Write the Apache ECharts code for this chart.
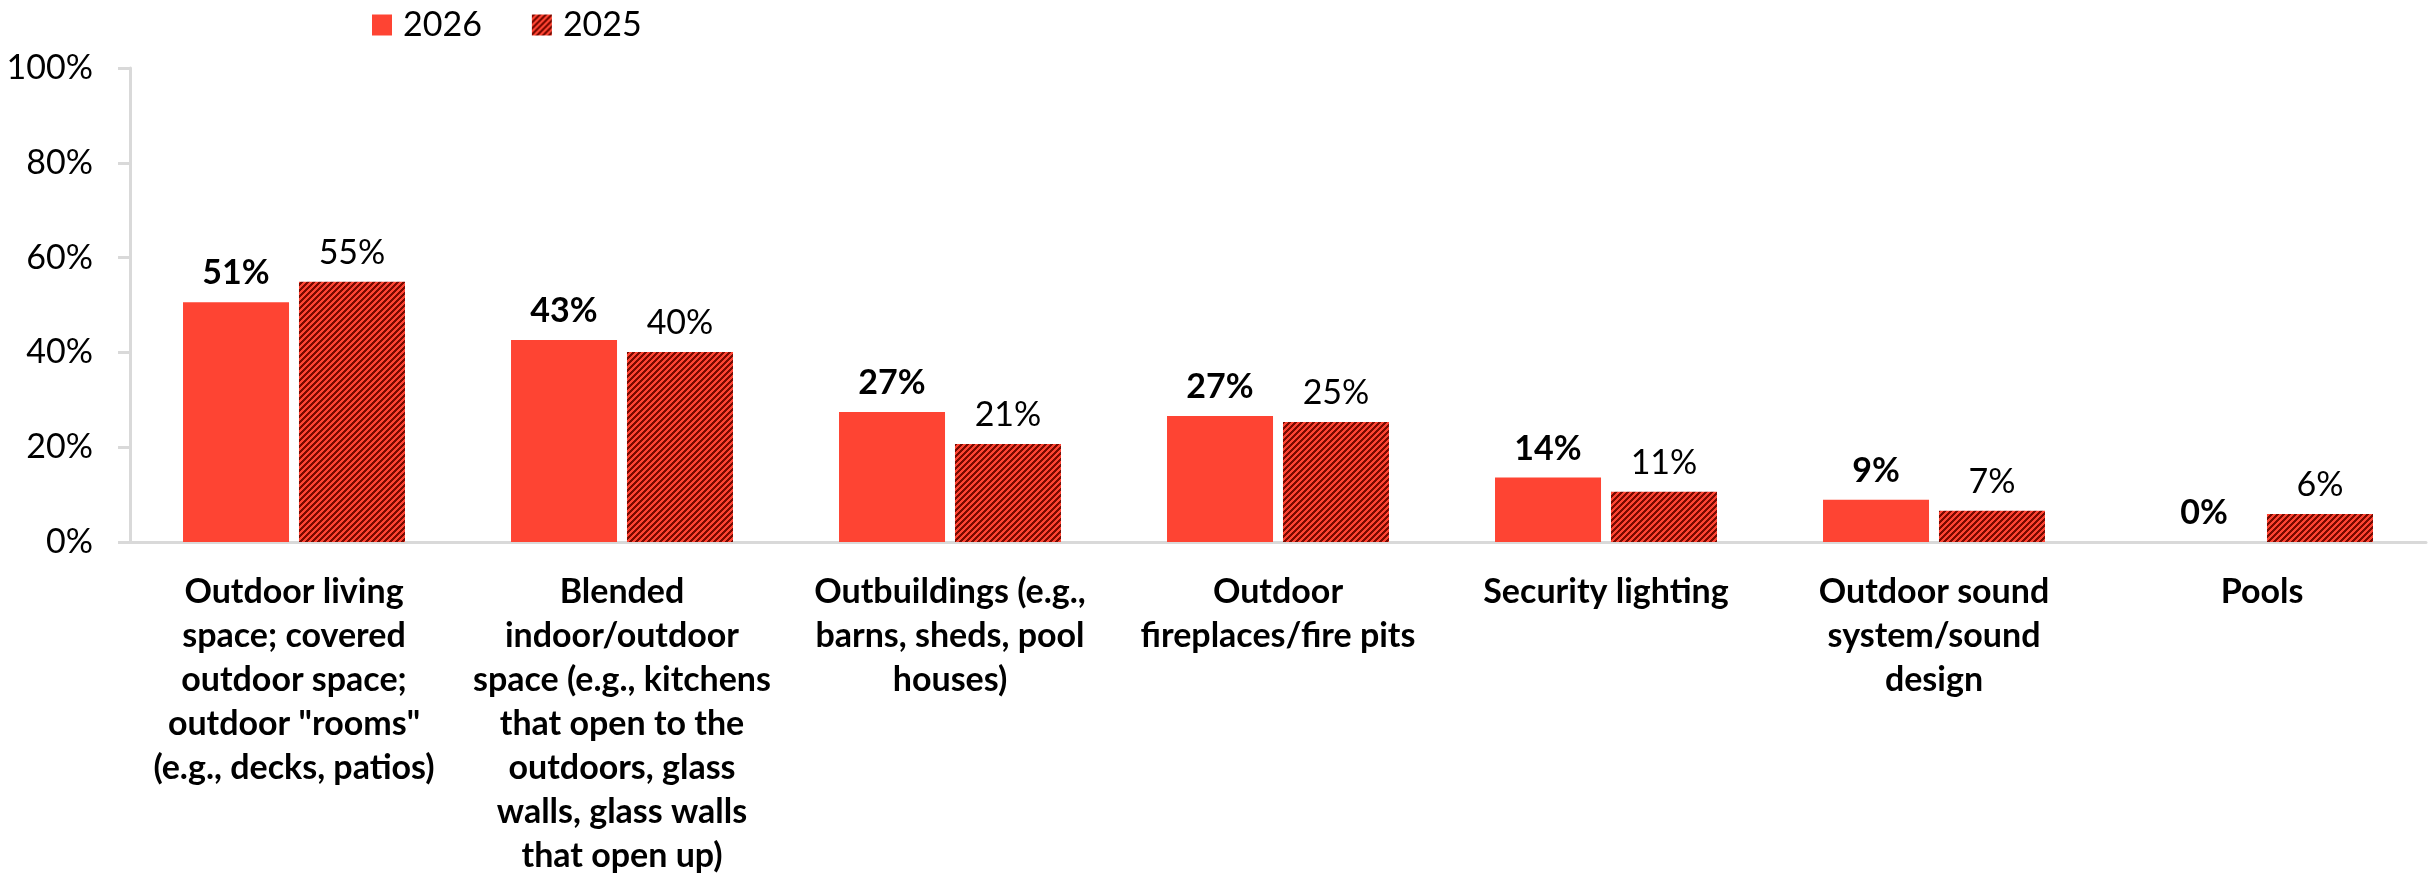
<!DOCTYPE html>
<html>
<head>
<meta charset="utf-8">
<script src="https://cdn.jsdelivr.net/npm/echarts@6/dist/echarts.min.js"></script>
<style>
html,body{margin:0;padding:0;background:#fff;}
#chart{width:2430px;height:885px;}
</style>
</head>
<body>
<div id="chart"></div>
<script>
const categories = [
  'Outdoor living\nspace; covered\noutdoor space;\noutdoor "rooms"\n(e.g., decks, patios)',
  'Blended\nindoor/outdoor\nspace (e.g., kitchens\nthat open to the\noutdoors, glass\nwalls, glass walls\nthat open up)',
  'Outbuildings (e.g.,\nbarns, sheds, pool\nhouses)',
  'Outdoor\nfireplaces/fire pits',
  'Security lighting',
  'Outdoor sound\nsystem/sound\ndesign',
  'Pools'
];
const values2026 = [50.6, 42.6, 27.4, 26.6, 13.6, 8.9, 0];
const values2025 = [54.9, 40.1, 20.7, 25.3, 10.6, 6.6, 5.9];
const yTicks = [0, 20, 40, 60, 80, 100];

const RED = '#FE4433';

function makePattern() {
  const size = 6;
  const c = document.createElement('canvas');
  c.width = size; c.height = size;
  const ctx = c.getContext('2d');
  const img = ctx.createImageData(size, size);
  const r1 = [0xFE, 0x44, 0x33], r2 = [0x7A, 0x0A, 0x00];
  for (let y = 0; y < size; y++) {
    for (let x = 0; x < size; x++) {
      const col = ((x + y) % size) < 3 ? r2 : r1;
      const i = (y * size + x) * 4;
      img.data[i] = col[0]; img.data[i+1] = col[1]; img.data[i+2] = col[2]; img.data[i+3] = 255;
    }
  }
  ctx.putImageData(img, 0, 0);
  return c;
}
const pattern = { image: makePattern(), repeat: 'repeat' };

const FONT = 'Lato, "Open Sans", sans-serif';
const chart = echarts.init(document.getElementById('chart'), null, { renderer: 'canvas' });
chart.setOption({
  animation: false,
  textStyle: { fontFamily: FONT },
  legend: {
    left: 367, top: 3,
    itemWidth: 20, itemHeight: 21, itemGap: 50,
    icon: 'rect',
    textStyle: { fontFamily: FONT, fontSize: 34, color: '#000', padding: [0, 0, 0, 6] },
    data: ['2026', '2025']
  },
  grid: { left: 130, right: 4, top: 68, bottom: 343, containLabel: false, outerBoundsMode: 'none' },
  xAxis: {
    type: 'category',
    data: categories,
    axisLine: { show: true, lineStyle: { color: '#D9D9D9', width: 3 } },
    axisTick: { show: false },
    axisLabel: {
      interval: 0, margin: 28, color: '#000', fontFamily: FONT,
      fontSize: 34, fontWeight: 'bold', lineHeight: 44, align: 'center'
    }
  },
  yAxis: {
    type: 'value', min: 0, max: 100, interval: 20,
    axisLine: { show: true, lineStyle: { color: '#D9D9D9', width: 3 } },
    axisTick: { show: true, inside: false, length: 12, lineStyle: { color: '#D9D9D9', width: 3 } },
    splitLine: { show: false },
    axisLabel: {
      margin: 37, color: '#000', fontFamily: FONT, fontSize: 34,
      formatter: v => yTicks.includes(v) ? v + '%' : ''
    }
  },
  series: [
    {
      name: '2026', type: 'bar', data: values2026,
      barWidth: 106, barGap: '9.4%',
      itemStyle: { color: RED },
      label: {
        show: true, position: 'top', distance: 12,
        formatter: p => Math.round(p.value) + '%',
        color: '#000', fontFamily: FONT, fontSize: 34, fontWeight: 'bold'
      }
    },
    {
      name: '2025', type: 'bar', data: values2025,
      barWidth: 106,
      itemStyle: { color: pattern },
      label: {
        show: true, position: 'top', distance: 12,
        formatter: p => Math.round(p.value) + '%',
        color: '#000', fontFamily: FONT, fontSize: 34
      }
    }
  ]
});
</script>
</body>
</html>
